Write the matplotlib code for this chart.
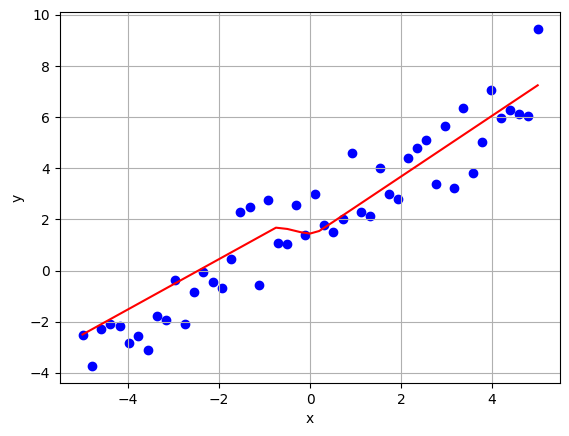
import matplotlib
matplotlib.use("Agg")
import matplotlib.pyplot as plt
import numpy as np

# data
x = np.linspace(-5, 5, 50)
y = [-2.5, -3.73, -2.27, -2.1, -2.15, -2.85, -2.55, -3.1, -1.77, -1.92,
     -0.35, -2.08, -0.82, -0.07, -0.43, -0.67, 0.47, 2.3, 2.47, -0.58,
     2.78, 1.08, 1.05, 2.58, 1.4, 2.98, 1.8, 1.53, 2.03, 4.62,
     2.3, 2.12, 4.03, 2.98, 2.82, 4.39, 4.78, 5.1, 3.37, 5.65,
     3.22, 6.35, 3.8, 5.02, 7.06, 5.96, 6.3, 6.12, 6.04, 9.45]

fit_x = [-5.0, -0.75, -0.5, -0.2, 0.0, 0.2, 0.5, 5.0]
fit_y = [-2.5, 1.68, 1.63, 1.5, 1.45, 1.55, 1.9, 7.25]

fig, ax = plt.subplots(figsize=(5.69, 4.36), dpi=100)
fig.subplots_adjust(left=0.105, right=0.985, top=0.972, bottom=0.122)
ax.scatter(x, y, color="blue")
ax.plot(fit_x, fit_y, color="red")
ax.set_xlabel("x")
ax.set_ylabel("y")
ax.grid(True)
plt.savefig("out.png")
